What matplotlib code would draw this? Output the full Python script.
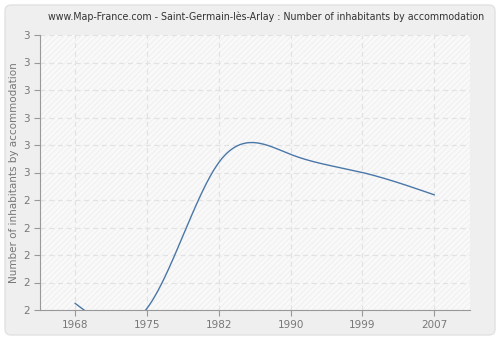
import numpy as np
import matplotlib
matplotlib.use("Agg")
import matplotlib.pyplot as plt
from matplotlib.patches import FancyBboxPatch, Rectangle

years = ["1968", "1975", "1982", "1990", "1999", "2007"]
values = [2.024, 2.006, 2.536, 2.566, 2.50, 2.419]
ytick_values = [2.0, 2.1, 2.2, 2.3, 2.4, 2.5, 2.6, 2.7, 2.8, 2.9, 3.0]
ytick_labels = ["2", "2", "2", "2", "2", "3", "3", "3", "3", "3", "3"]

def natural_spline(x, y, xs):
    x = np.asarray(x, float); y = np.asarray(y, float)
    n = len(x)
    h = np.diff(x)
    A = np.zeros((n, n)); b = np.zeros(n)
    A[0, 0] = 1; A[-1, -1] = 1
    for i in range(1, n - 1):
        A[i, i - 1] = h[i - 1]
        A[i, i] = 2 * (h[i - 1] + h[i])
        A[i, i + 1] = h[i]
        b[i] = 3 * ((y[i + 1] - y[i]) / h[i] - (y[i] - y[i - 1]) / h[i - 1])
    c = np.linalg.solve(A, b)
    out = np.empty_like(xs)
    for k, xv in enumerate(xs):
        i = min(max(np.searchsorted(x, xv) - 1, 0), n - 2)
        dx = xv - x[i]
        bb = (y[i + 1] - y[i]) / h[i] - h[i] * (2 * c[i] + c[i + 1]) / 3
        d = (c[i + 1] - c[i]) / (3 * h[i])
        out[k] = y[i] + bb * dx + c[i] * dx ** 2 + d * dx ** 3
    return out

plt.rcParams["font.family"] = ["DejaVu Sans"]
plt.rcParams["hatch.color"] = "#eeeeee"
plt.rcParams["hatch.linewidth"] = 0.6

fig = plt.figure(figsize=(5, 3.4), dpi=100)
fig.patch.set_facecolor("white")

bg = fig.add_axes([0, 0, 1, 1], zorder=-10)
bg.set_xlim(0, 500); bg.set_ylim(0, 340); bg.axis("off")
bg.add_patch(FancyBboxPatch((5, 5), 490, 330, boxstyle="round,pad=0,rounding_size=6",
                            facecolor="#efefef", edgecolor="#e2e2e2", linewidth=1))

ax = fig.add_axes([40 / 500, 30 / 340, 430 / 500, 275 / 340])
ax.set_facecolor("#f9f9f9")
ax.add_patch(Rectangle((0, 0), 1, 1, transform=ax.transAxes, facecolor="none",
                       hatch="//////", edgecolor="#eeeeee", linewidth=0, zorder=0))

xi = np.arange(len(years))
xs = np.linspace(0, len(years) - 1, 400)
ys = natural_spline(xi, values, xs)
ax.plot(xs, ys, color="#4a77a8", linewidth=1.0, zorder=3, clip_on=True)

ax.set_xlim(-0.49, 5.5)
ax.set_ylim(2.0, 3.0)
ax.set_xticks(xi)
ax.set_xticklabels(years)
ax.set_yticks(ytick_values)
ax.set_yticklabels(ytick_labels)
ax.grid(True, color="#e2e2e2", linestyle=(0, (4, 3)), linewidth=0.9)
ax.set_axisbelow(True)
for s in ["top", "right"]:
    ax.spines[s].set_visible(False)
for s in ["left", "bottom"]:
    ax.spines[s].set_color("#999999")
ax.tick_params(axis="both", colors="#999999", labelcolor="#777777", labelsize=7.5,
               length=4, width=0.8, direction="out")
ax.set_ylabel("Number of inhabitants by accommodation", color="#777777", fontsize=7.5, labelpad=3)
fig.text(266 / 500, 1 - 17 / 340, "www.Map-France.com - Saint-Germain-lès-Arlay : Number of inhabitants by accommodation",
         ha="center", va="center", fontsize=6.85, color="#333333")

fig.savefig("out.png", dpi=100, facecolor=fig.get_facecolor())
